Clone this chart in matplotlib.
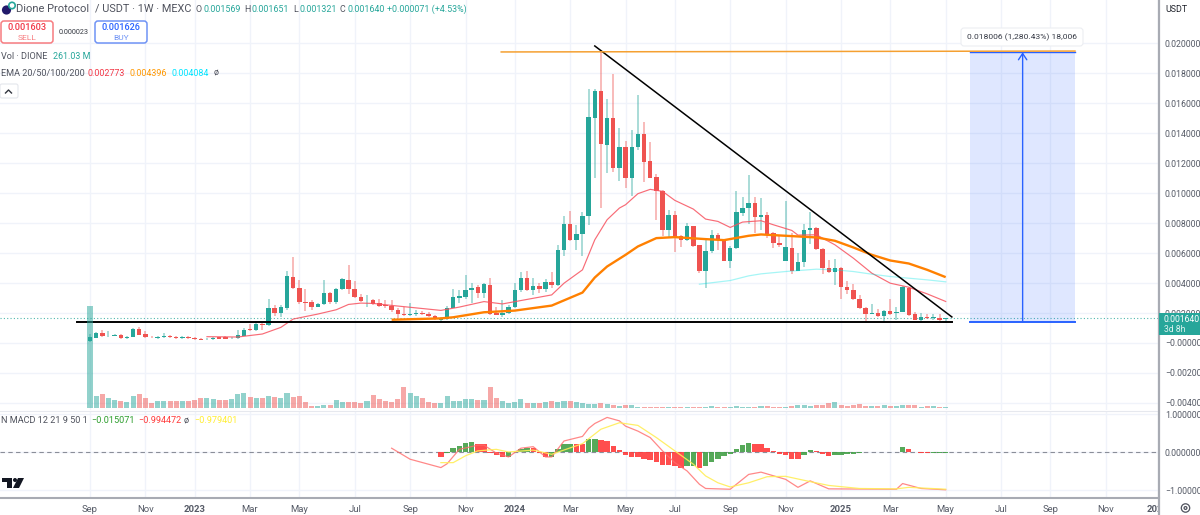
#!/usr/bin/env python3
"""Weekly DIONE / USDT chart with EMAs, volume, N MACD and hand drawn trend lines."""

import matplotlib

matplotlib.use("Agg")
import matplotlib.pyplot as plt
import numpy as np
from matplotlib.patches import Circle, FancyBboxPatch, Polygon, Rectangle

# prices are in millionths of a USDT
opens = [
    111, 355, 644, 444, 488, 533, 311, 422, 955, 622,
    422, 355, 377, 444, 400, 333, 377, 355, 266, 244,
    244, 377, 377, 311, 311, 488, 932, 844, 1288, 1177,
    2353, 1998, 2353, 4396, 3663, 2753, 2708, 2420, 2575, 3308,
    2708, 3574, 4218, 3596, 3064, 2842, 2864, 2642, 2531, 2442,
    2198, 1954, 1865, 1909, 1998, 1931, 1820, 1554, 1598, 2353,
    3033, 3055, 3523, 3724, 3367, 3880, 1985, 1896, 1985, 2386,
    3546, 4326, 3546, 3813, 3590, 4059, 3858, 6199, 7939, 6891,
    7248, 8496, 15053, 16814, 13246, 15053, 11708, 13068, 10994, 13068,
    13982, 12131, 11083, 10124, 7515, 8563, 7114, 6868, 7783, 6512,
    4795, 6110, 7203, 6891, 5486, 6311, 8697, 8987, 9321, 8407,
    8519, 7337, 6645, 5486, 6356, 4839, 5397, 7515, 7671, 6266,
    5018, 4772, 5040, 3746, 3546, 2944, 2364, 1962, 2029, 1806,
    2141, 1985, 2096, 3702, 1918, 1561, 1762, 1673, 1695, 1569,
]
closes = [
    400, 644, 444, 488, 533, 311, 422, 955, 555, 377,
    377, 377, 444, 377, 333, 377, 333, 244, 222, 289,
    333, 289, 289, 355, 533, 866, 844, 1243, 1221, 2331,
    1976, 2375, 4440, 3641, 2731, 2664, 2420, 2575, 3308, 2708,
    3596, 4240, 3574, 3064, 2819, 2886, 2620, 2464, 2442, 2176,
    1931, 1887, 1931, 1998, 1909, 1798, 1598, 1621, 2353, 3086,
    3144, 3546, 3680, 3367, 3925, 1940, 1896, 1985, 2431, 3546,
    4326, 3546, 3813, 3590, 4059, 3858, 6222, 7939, 6891, 7270,
    8496, 15097, 16814, 13291, 15053, 11708, 13068, 10994, 13090, 13982,
    12109, 11039, 10147, 7515, 8563, 7002, 6891, 7805, 6489, 4795,
    6155, 7203, 6891, 5486, 6311, 8719, 9009, 9321, 8429, 8519,
    7270, 6645, 6534, 6378, 4795, 5397, 7537, 7671, 6244, 5018,
    4750, 5040, 3746, 3523, 2944, 2342, 1962, 2029, 1806, 2141,
    1940, 2096, 3724, 1896, 1561, 1762, 1673, 1718, 1539, 1640,
]
highs = [
    622, 755, 888, 821, 577, 577, 466, 999, 1043, 821,
    488, 444, 688, 533, 444, 444, 444, 400, 311, 355,
    400, 422, 444, 422, 888, 1021, 1288, 1443, 1376, 2930,
    2531, 2531, 4795, 5728, 4218, 3596, 2842, 2664, 4218, 3419,
    3641, 4329, 5217, 4151, 3286, 3197, 2930, 2953, 2842, 2842,
    2309, 2398, 2664, 2176, 2153, 2087, 1865, 1732, 2442, 3596,
    3546, 4549, 4036, 3880, 3992, 4326, 2431, 2877, 2542, 3992,
    4772, 4839, 4326, 3992, 4282, 4728, 6512, 8496, 8786, 7894,
    8742, 16926, 16970, 19490, 16257, 17929, 14361, 13469, 14205, 16524,
    14763, 13402, 11284, 10236, 8853, 8786, 7225, 8006, 7827, 6556,
    6935, 7560, 7337, 6935, 6445, 10124, 9745, 11239, 9745, 9678,
    8764, 7381, 7225, 9500, 7337, 5999, 7917, 8719, 7738, 6311,
    5553, 5597, 5107, 4126, 3947, 3189, 2431, 2587, 2252, 2208,
    2921, 2386, 3813, 3769, 2096, 1985, 1918, 1940, 1940, 1651,
]
lows = [
    44, 311, 400, 400, 444, 266, 289, 377, 511, 333,
    333, 266, 333, 333, 289, 289, 289, 222, 200, 200,
    200, 244, 266, 244, 266, 444, 799, 821, 844, 1110,
    1776, 1732, 2220, 3596, 2620, 2131, 2176, 2375, 2531, 2620,
    2620, 3530, 3241, 2975, 2708, 2398, 2531, 2398, 2353, 2087,
    1687, 1776, 1820, 1820, 1865, 1732, 1532, 1421, 1510, 2309,
    2654, 2966, 2654, 3033, 2988, 1851, 1851, 1717, 1940, 2342,
    3434, 3501, 3211, 3323, 3434, 3657, 3813, 5820, 6779, 6177,
    5820, 7894, 11016, 9009, 11351, 11395, 10793, 10347, 9834, 12867,
    10726, 10994, 8229, 7158, 7069, 6043, 6400, 6779, 6400, 4661,
    3657, 5999, 6222, 5441, 5018, 6266, 8452, 7961, 7337, 7560,
    7002, 6333, 6400, 5441, 4616, 4795, 5062, 6601, 6177, 4616,
    4705, 3903, 2966, 3278, 2877, 2252, 1472, 1940, 1762, 1450,
    1896, 1539, 2052, 1829, 1516, 1494, 1583, 1539, 1450, 1321,
]
volumes = [
    307, 36, 42, 30, 25, 23, 20, 36, 42, 32,
    17, 23, 23, 23, 21, 21, 21, 25, 32, 30,
    27, 25, 26, 29, 42, 46, 34, 32, 30, 38,
    33, 30, 46, 33, 37, 19, 7, 6, 9, 9,
    25, 19, 19, 18, 16, 21, 41, 29, 23, 20,
    27, 63, 46, 37, 30, 20, 17, 17, 38, 23,
    23, 28, 28, 25, 25, 63, 30, 22, 16, 20,
    29, 16, 17, 15, 18, 21, 19, 21, 21, 20,
    17, 14, 14, 16, 12, 10, 8, 9, 10, 4,
    4, 4, 4, 4, 3, 4, 3, 3, 3, 4,
    4, 6, 5, 5, 3, 6, 5, 5, 5, 6,
    6, 5, 5, 3, 6, 9, 9, 7, 11, 10,
    16, 19, 9, 8, 11, 13, 7, 6, 7, 10,
    7, 7, 9, 9, 9, 5, 7, 7, 4, 3,
]

ema20_weeks = [19, 24, 28, 31, 33, 37, 40, 42, 44, 46, 49, 57, 60, 64, 67, 75, 77, 80, 82, 84, 86,
               87, 89, 91, 93, 95, 98, 100, 102, 104, 106, 109, 111, 114, 115, 118, 121, 124, 127,
               130, 133, 136, 139]
ema20 = [422, 400, 600, 1043, 1598, 1931, 2220, 2575, 2664, 2642, 2509, 2176, 2398, 2765, 2609, 3211,
         3992, 4884, 6891, 8229, 9009, 9232, 9968, 10258, 10124, 9522, 8942, 8273, 8117, 7716, 8073,
         8162, 7894, 7515, 7203, 7225, 6556, 5664, 4661, 3992, 3724, 3278, 2773]
ema50_weeks = [49, 57, 59, 64, 69, 75, 80, 82, 84, 87, 89, 92, 95, 100, 103, 107, 109, 113, 118, 121,
               124, 127, 130, 133, 136, 139]
ema50 = [1554, 1643, 1717, 2052, 2163, 2498, 3367, 4371, 5107, 5887, 6445, 7002, 7069, 6935, 6868,
         7158, 7247, 7158, 7047, 6824, 6378, 5887, 5508, 5307, 4884, 4396]
ema100_weeks = [99, 104, 107, 109, 113, 118, 121, 124, 127, 130, 133, 136, 139]
ema100 = [3925, 4170, 4482, 4616, 4772, 4928, 4884, 4772, 4594, 4438, 4326, 4215, 4084]

hist_start = 57
macd_hist = [
    -0.13, -0.03, 0.10, 0.17, 0.25, 0.27, 0.22, 0.22, -0.02, -0.07,
    -0.13, -0.13, 0.01, 0.08, 0.11, 0.10, -0.02, -0.13, -0.13, 0.08,
    0.22, 0.22, 0.20, 0.20, 0.35, 0.35, 0.31, 0.30, 0.17, 0.06,
    -0.09, -0.12, -0.14, -0.19, -0.22, -0.27, -0.33, -0.35, -0.38, -0.42,
    -0.37, -0.37, -0.42, -0.37, -0.26, -0.18, -0.11, -0.05, 0.09, 0.19,
    0.25, 0.22, 0.20, 0.10, 0.03, -0.05, -0.07, -0.18, -0.18, -0.07,
    0.04, 0.03, -0.04, -0.10, -0.08, -0.07, -0.05, -0.04, -0.02, -0.01,
    -0.005, -0.005, -0.005, -0.005, -0.005, 0.13, 0.08, 0.01, -0.02, -0.03,
    -0.03, -0.02, -0.015,
]
macd_hist_green = [
    0, 1, 1, 1, 1, 1, 0, 0, 0, 0,
    0, 1, 1, 1, 1, 0, 0, 0, 1, 1,
    1, 1, 0, 0, 1, 1, 0, 0, 0, 0,
    0, 0, 0, 0, 0, 0, 0, 0, 0, 0,
    1, 1, 0, 1, 1, 1, 1, 1, 1, 1,
    1, 0, 0, 0, 0, 0, 0, 0, 0, 1,
    1, 0, 0, 0, 1, 1, 1, 1, 1, 1,
    1, 1, 1, 1, 1, 1, 0, 0, 0, 0,
    1, 1, 1,
]
macd_weeks = [49, 52, 57, 58, 60, 63, 64, 66, 68, 70, 72, 74, 75, 77, 80, 81, 82, 84, 86, 87, 89, 91,
              93, 95, 97, 99, 100, 104, 107, 109, 113, 115, 117, 120, 131, 132, 135, 139]
macd_line = [0.10, -0.19, -0.41, -0.31, 0.07, 0.18, 0.18, -0.03, -0.13, 0.10, 0.14, -0.13, -0.13, 0.29,
             0.41, 0.62, 0.75, 0.91, 0.82, 0.68, 0.55, 0.38, 0.03, -0.28, -0.50, -0.85, -0.96, -0.98,
             -0.59, -0.53, -0.72, -0.93, -0.76, -0.97, -0.98, -0.83, -0.96, -0.994]
signal_weeks = [57, 59, 61, 63, 66, 68, 72, 75, 80, 83, 86, 89, 92, 95, 98, 100, 102, 104, 107, 110,
                113, 117, 120, 125, 131, 133, 139]
signal_line = [-0.28, -0.28, -0.10, 0.03, 0.07, 0.0, 0.05, -0.06, 0.22, 0.60, 0.77, 0.70, 0.38, 0.03,
               -0.32, -0.63, -0.81, -0.92, -0.81, -0.65, -0.64, -0.78, -0.88, -0.96, -0.97, -0.93, -0.979]

tick_weeks = [0, 9, 17, 26, 34, 43, 52, 61, 69, 78, 87, 95, 104, 113, 122, 130, 139, 148, 156, 165, 173.5]
tick_names = ["Sep", "Nov", "2023", "Mar", "May", "Jul", "Sep", "Nov", "2024", "Mar", "May", "Jul",
              "Sep", "Nov", "2025", "Mar", "May", "Jul", "Sep", "Nov", "2026"]
price_ticks = [0.020, 0.018, 0.016, 0.014, 0.012, 0.010, 0.008, 0.006, 0.004, 0.002, 0.0, -0.002, -0.004]
price_tick_names = ["0.020000", "0.018000", "0.016000", "0.014000", "0.012000", "0.010000", "0.008000",
                    "0.006000", "0.004000", "0.002000", "\u22120.000000", "\u22120.002000", "\u22120.004000"]
macd_ticks = [1.0, 0.0, -1.0]
macd_tick_names = ["1.000000", "0.000000", "\u22121.000000"]

last_price = 0.00164
support_price = 0.0014
support_weeks = [-2.1, 140]
trend_weeks = [82, 140]
trend_prices = [0.01983, 0.00174]
target_weeks = [66.8, 160]
target_prices = [0.01943, 0.01949]
range_weeks = [143, 160]
range_mid = 151.5
range_top = 0.01941

TEAL = "#26a69a"
RED = "#ef5350"
GRID = "#f0f3fa"
LABEL = "#555a66"
plt.rcParams["font.family"] = ["Roboto", "DejaVu Sans"]

W, H = 1200, 515
PANE_R = 1159
fig = plt.figure(figsize=(12, 5.15), dpi=100)


def pane(top, bottom):
    return fig.add_axes([0, 1 - bottom / H, PANE_R / W, (bottom - top) / H])


ax = pane(0, 410)
macd = pane(411, 498)
week_px = 6.156
week_lim = (-90 / week_px, (PANE_R - 90) / week_px)
week = np.arange(len(opens))
o, c, hi, lo = [np.array(v) * 1e-6 for v in (opens, closes, highs, lows)]
colors = [TEAL if b >= a else RED for a, b in zip(o, c)]

# volume shares the lower part of the price pane
vol_ax = ax.twinx()
vol_ax.set_ylim(-5, 1225)
vol_ax.axis("off")
vol_ax.bar(week, volumes, width=0.82, color=colors, alpha=0.5, linewidth=0)

ax.set_xlim(*week_lim)
ax.set_ylim(-67 / 14979, 343 / 14979)
ax.set_yticks(price_ticks)
ax.set_yticklabels(price_tick_names)
macd.set_xlim(*week_lim)
macd.set_ylim(-46 / 38, 41 / 38)
macd.set_yticks(macd_ticks)
macd.set_yticklabels(macd_tick_names)
macd.set_xticks(tick_weeks)
macd.set_xticklabels(tick_names)
for tick_label, name in zip(macd.get_xticklabels(), tick_names):
    if name.startswith("20"):
        tick_label.set_fontweight("bold")
ax.set_xticks(tick_weeks)
ax.tick_params(axis="x", length=0, labelbottom=False)
for pane_ax in (ax, macd):
    pane_ax.yaxis.tick_right()
    pane_ax.tick_params(axis="y", length=0, labelsize=6.3, labelcolor=LABEL, pad=4.3)
    pane_ax.tick_params(axis="x", length=0, labelsize=6.8, labelcolor=LABEL, pad=5)
    pane_ax.grid(True, color=GRID, linewidth=1)
    pane_ax.set_axisbelow(True)
    for side in pane_ax.spines.values():
        side.set_visible(False)
macd.spines["bottom"].set_visible(True)
macd.spines["bottom"].set(color="#a8abb3", linewidth=1.5)

ax.axhline(last_price, color=TEAL, linewidth=0.8, linestyle=(0, (1, 2)), alpha=0.8, zorder=1)
ax.vlines(week, lo, hi, colors=colors, linewidth=1.1, alpha=0.5, zorder=3)
ax.bar(week, np.maximum(np.abs(c - o), 2e-5), bottom=np.minimum(o, c), width=0.72, color=colors,
       linewidth=0, zorder=4)
ax.plot(ema20_weeks, np.array(ema20) * 1e-6, color="#f7525f", linewidth=0.85, alpha=0.85, zorder=5)
ax.plot(ema50_weeks, np.array(ema50) * 1e-6, color="#ff8000", linewidth=1.7, zorder=5,
        solid_capstyle="butt")
ax.plot(ema100_weeks, np.array(ema100) * 1e-6, color="#00e5e5", linewidth=0.9, alpha=0.35, zorder=5)

# drawings on top of the price pane
ax.add_patch(Rectangle((range_weeks[0], support_price), range_weeks[1] - range_weeks[0],
                       range_top - support_price, facecolor="#2962ff", alpha=0.15, linewidth=0, zorder=2))
ax.plot(range_weeks, [support_price, support_price], color="#2962ff", linewidth=1.4, zorder=6)
ax.plot(range_weeks, [range_top, range_top], color="#2962ff", linewidth=1, zorder=6)
ax.annotate("", xy=(range_mid, range_top), xytext=(range_mid, support_price), zorder=7,
            arrowprops=dict(arrowstyle="->,head_width=0.3,head_length=0.45", color="#2962ff", linewidth=1,
                            shrinkA=0, shrinkB=0))
ax.plot(support_weeks, [support_price, support_price], color="black", linewidth=1.4, zorder=7)
ax.plot(trend_weeks, trend_prices, color="black", linewidth=1.1, zorder=7)
ax.plot(target_weeks, target_prices, color="#f5a031", linewidth=1.1, zorder=7)

macd.axhline(0, color="#8a8e99", linewidth=0.8, linestyle=(0, (4, 3)), zorder=1)
hist_colors = ["#43a047" if g else "#ff3b3b" for g in macd_hist_green]
macd.bar(np.arange(len(macd_hist)) + hist_start, macd_hist, width=0.88, color=hist_colors, alpha=0.9,
         linewidth=0, zorder=2)
macd.plot(macd_weeks, macd_line, color="#ff6b6b", linewidth=0.9, alpha=0.8, zorder=3)
macd.plot(signal_weeks, signal_line, color="#ffee58", linewidth=0.9, alpha=0.9, zorder=3)

# page furniture, placed in pixels on a full-figure overlay
ui = fig.add_axes([0, 0, 1, 1], zorder=10)
ui.set_xlim(0, W)
ui.set_ylim(H, 0)
ui.axis("off")
ui.patch.set_alpha(0)


def label(x, y, text, color="#50535e", size=6.4, **kw):
    ui.text(x, y, text, color=color, fontsize=size, va="center", ha=kw.pop("ha", "left"), **kw)


ui.add_patch(Circle((6.5, 10), 4.6, facecolor="#221a6b", edgecolor="none"))
ui.add_patch(Circle((12, 5.5), 3.2, facecolor="white", edgecolor="#26a69a", linewidth=1.2))
label(16, 9, "Dione Protocol", size=8)
label(95, 9, "/ USDT \u00b7 1W \u00b7 MEXC", size=7.8)
for x, prefix, value in [(196, "O", "0.001569"), (244, "H", "0.001651"), (293, "L", "0.001321"), (340, "C", "0.001640")]:
    label(x, 9, prefix)
    label(x + 7, 9, value, color=TEAL)
label(387, 9, "+0.000071 (+4.53%)", color=TEAL)

for x, w, edge, price, side in [(1, 52, "#f77c80", "0.001603", "SELL"), (95, 52, "#6f93f5", "0.001626", "BUY")]:
    ui.add_patch(FancyBboxPatch((x, 21), w, 22, boxstyle="round,pad=0,rounding_size=3", facecolor="white",
                                edgecolor=edge, linewidth=1.1))
    text_color = "#f23645" if side == "SELL" else "#2962ff"
    label(x + w / 2, 28, price, color=text_color, size=6.6, ha="center", fontweight="medium")
    label(x + w / 2, 38, side, color=edge, size=6, ha="center")
label(74, 32.5, "0.000023", size=5.2, ha="center", color="#333740")

label(1, 56.5, "Vol \u00b7 DIONE", size=6.6)
label(53, 56.5, "261.03 M", color=TEAL)
label(1, 73, "EMA 20/50/100/200", size=6.6)
label(88, 73, "0.002773", color="#f23645")
label(130, 73, "0.004396", color="#ff9800")
label(172, 73, "0.004084", color="#00e5ff")
label(214, 73, "\u00f8")
ui.add_patch(FancyBboxPatch((0, 84), 18, 14, boxstyle="round,pad=0,rounding_size=2", facecolor="white",
                            edgecolor="#e4e6ec", linewidth=0.8))
ui.plot([5.5, 8.5, 11.5], [93, 90, 93], color="#333740", linewidth=1)

label(1, 420.5, "N MACD 12 21 9 50 1", size=6.6)
label(91, 420.5, "\u22120.015071", color="#2e9e2e", size=6.6)
label(138, 420.5, "\u22120.994472", color="#ff3b3b", size=6.6)
label(184, 420.5, "\u00f8", size=6.6)
label(194, 420.5, "\u22120.979401", color="#ffee33", size=6.6)

# chart logo
ui.add_patch(Polygon([(2, 478), (12, 478), (12, 488), (7, 488), (7, 482), (2, 482)], facecolor="#131722"))
ui.add_patch(Circle((15, 480), 2, facecolor="#131722"))
ui.add_patch(Polygon([(18, 478), (24, 478), (19, 488), (13, 488)], facecolor="#131722"))

# drawing label, right scale and price tag
ui.add_patch(FancyBboxPatch((961, 28), 122, 18, boxstyle="round,pad=0,rounding_size=3", facecolor="white",
                            edgecolor="#eceef2", linewidth=0.8))
label(1022, 37, "0.018006 (1,280.43%) 18,006", size=6.1, ha="center", color="#363a45")
ui.plot([0, PANE_R], [410.5, 410.5], color="#e6e8ee", linewidth=0.8)
ui.add_patch(Rectangle((PANE_R, 499), 41, 16, facecolor="white", edgecolor="none"))
ui.plot([PANE_R, PANE_R], [0, H], color="#a8abb3", linewidth=1.6)
label(1165, 9, "USDT", size=6.4, color="#20232c")
ui.add_patch(Rectangle((PANE_R, 313), 41, 22, facecolor="#26a69a", edgecolor="none", zorder=5))
ui.text(1164, 319, "0.001640", color="white", fontsize=6.2, va="center", zorder=6)
ui.text(1164, 329, "3d 8h", color="#dff3f0", fontsize=6.2, va="center", zorder=6)
ui.add_patch(Circle((1185.5, 508), 4.2, facecolor="none", edgecolor="#50535e", linewidth=0.9))
ui.add_patch(Circle((1185.5, 508), 1.4, facecolor="none", edgecolor="#50535e", linewidth=0.9))

fig.savefig("out.png", dpi=100)
